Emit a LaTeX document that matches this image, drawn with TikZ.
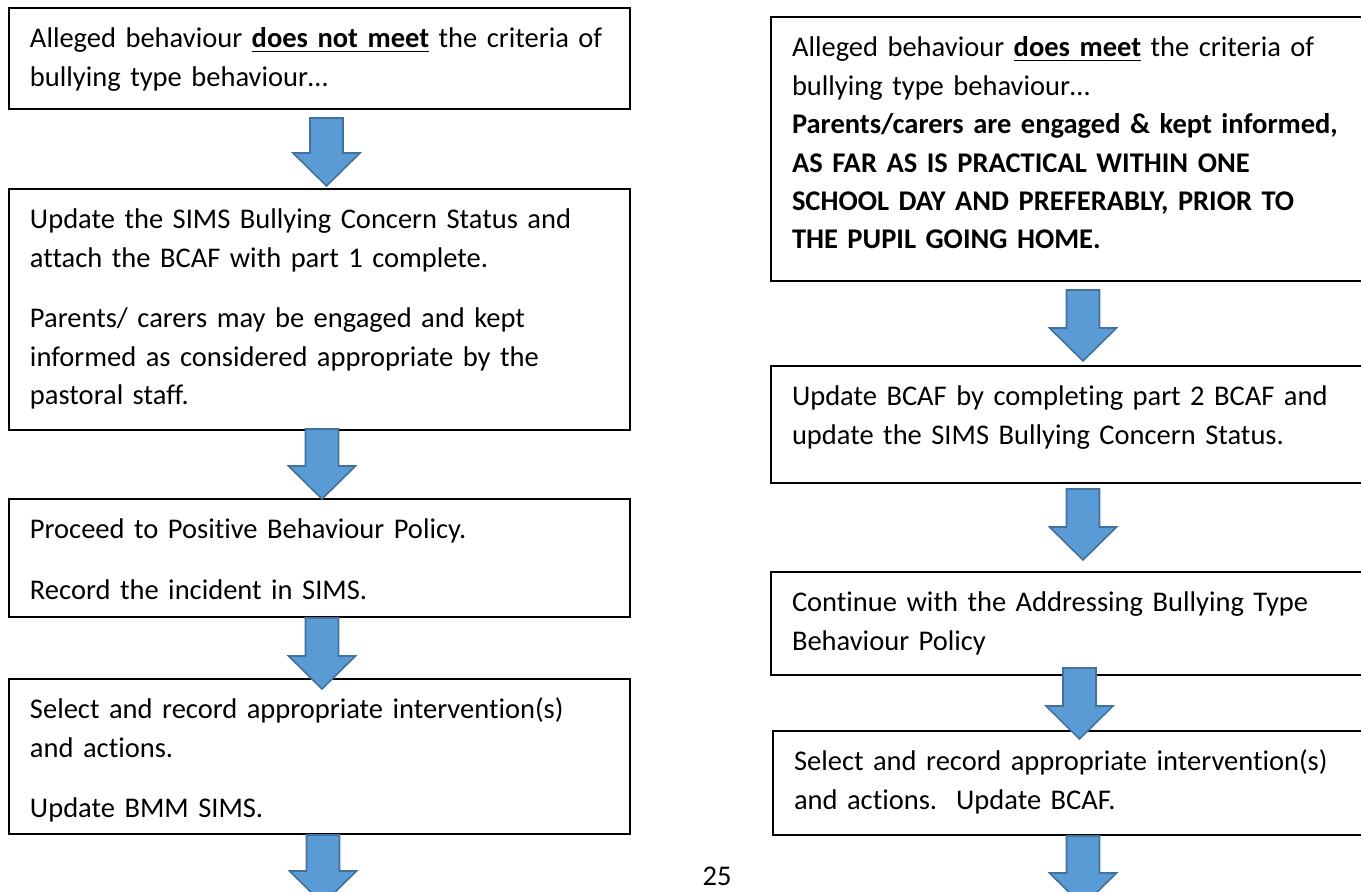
\documentclass[tikz,border=0pt]{standalone}
\usepackage{fontspec}
\setmainfont{Carlito}[Ligatures=NoCommon]
\usetikzlibrary{positioning,calc}

\definecolor{arrowfill}{HTML}{5B9BD5}
\definecolor{arrowline}{HTML}{41719C}

% block arrow from the top of its shaft (#1) down to its tip (#2)
\newcommand{\flowarrow}[2]{%
  \draw[blockarrow] let \p1=(#1), \p2=(#2) in
    (\x2-8.25pt,\y1) -- (\x2+8.25pt,\y1) -- (\x2+8.25pt,\y2+16.5pt)
    -- (\x2+16.75pt,\y2+16.5pt) -- (\x2,\y2) -- (\x2-16.75pt,\y2+16.5pt)
    -- (\x2-8.25pt,\y2+16.5pt) -- cycle;}

\begin{document}
\begin{tikzpicture}[
            x = 0.5pt, y = -0.5pt, % one unit per pixel
            flowbox/.style = {
                draw = black,
                line width = 1pt,
                fill = white,
                anchor = north west,
                align = left,
                inner xsep = 10.5pt,
                inner ysep = 0pt,
                text height = 20pt, % first baseline below the top
                text depth = #1
            },
            leftbox/.style = {flowbox=#1, text width=289.5pt},
            rightbox/.style = {flowbox=#1, text width=284pt},
            blockarrow/.style = {
                fill = arrowfill,
                draw = arrowline,
                line width = 0.8pt,
                line join = miter
            },
            font = \fontsize{14.25pt}{19.2pt}\selectfont
        ]

        \useasboundingbox (0,0) rectangle (1361,892);

        % left column: does not meet
        \node[leftbox=30.5pt] (l1) at (8,7)
            {Alleged behaviour \textbf{\underline{does not meet}} the criteria of\\
             bullying type behaviour…};
        \node[leftbox=100.5pt, below=39pt of l1] (l2)
            {Update the SIMS Bullying Concern Status and\\
             attach the BCAF with part 1 complete.\\[11pt]
             Parents/ carers may be engaged and kept\\
             informed as considered appropriate by the\\
             pastoral staff.};
        \node[leftbox=39pt, below=33.5pt of l2] (l3)
            {Proceed to Positive Behaviour Policy.\\[11pt]
             Record the incident in SIMS.};
        \node[leftbox=57.5pt, below=30pt of l3] (l4)
            {Select and record appropriate intervention(s)\\
             and actions.\\[11pt]
             Update BMM SIMS.};

        % right column: does meet
        \node[rightbox=112pt] (r1) at (770,16)
            {Alleged behaviour \textbf{\underline{does meet}} the criteria of\\
             bullying type behaviour…\\
             \textbf{Parents/carers are engaged \& kept informed,}\\
             \textbf{AS FAR AS IS PRACTICAL WITHIN ONE}\\
             \textbf{SCHOOL DAY AND PREFERABLY, PRIOR TO}\\
             \textbf{THE PUPIL GOING HOME.}};
        \node[rightbox=38.5pt, below=41.5pt of r1] (r2)
            {Update BCAF by completing part 2 BCAF and\\
             update the SIMS Bullying Concern Status.};
        \node[rightbox=31.5pt, below=43.5pt of r2] (r3)
            {Continue with the Addressing Bullying Type\\
             Behaviour Policy};
        \node[rightbox=32pt, below=27pt of r3, xshift=1pt] (r4)
            {Select and record appropriate intervention(s)\\
             and actions.\ \ Update BCAF.};

        \node (page) at (717,876) {25};

        % arrows between the boxes
        \flowarrow{[xshift=3.5pt,yshift=-4pt]l1.south}{[xshift=3.5pt,yshift=1pt]l2.north}
        \flowarrow{[xshift=1.25pt,yshift=1pt]l2.south}{[xshift=1.25pt,yshift=-0.5pt]l3.north}
        \flowarrow{[xshift=1.25pt]l3.south}{[xshift=1.25pt,yshift=-5.5pt]l4.north}
        \coordinate (lend) at ([xshift=1.75pt,yshift=-34.5pt]l4.south);
        \flowarrow{[xshift=1.75pt]l4.south}{lend}

        \flowarrow{[xshift=3.5pt,yshift=-4pt]r1.south}{[xshift=3.5pt,yshift=2pt]r2.north}
        \flowarrow{[xshift=3.5pt,yshift=-2.5pt]r2.south}{[xshift=3.5pt,yshift=5.5pt]r3.north}
        \flowarrow{[xshift=0.75pt,yshift=4pt]r3.south}{[xshift=0.75pt,yshift=-4.5pt]r4.north}
        \coordinate (rend) at ([xshift=2.5pt,yshift=-35pt]r4.south);
        \flowarrow{[xshift=2.5pt]r4.south}{rend}

    \end{tikzpicture}
\end{document}
